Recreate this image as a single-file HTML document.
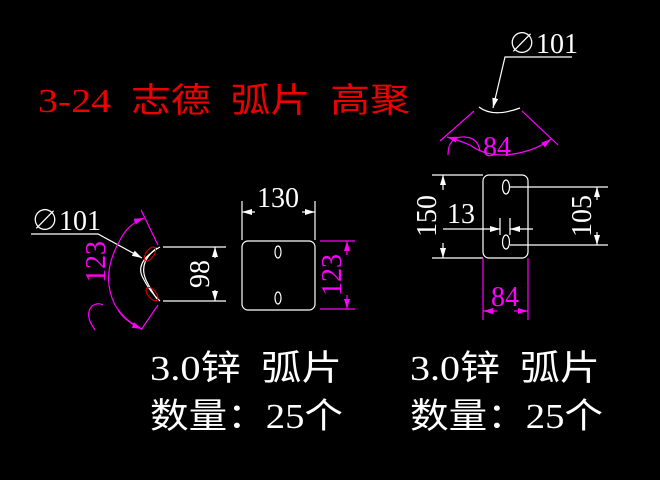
<!DOCTYPE html>
<html><head><meta charset="utf-8"><style>
html,body{margin:0;padding:0;background:#000;}
svg{display:block}
text{font-family:"Liberation Serif","Noto Serif CJK SC",serif;}
.cjk{font-family:"Liberation Serif","Noto Sans CJK SC",serif;white-space:pre;}
</style></head><body>
<svg width="660" height="480" viewBox="0 0 660 480" xmlns="http://www.w3.org/2000/svg">
<defs>
<marker id="aw" markerWidth="10" markerHeight="6" refX="10" refY="3" orient="auto" markerUnits="userSpaceOnUse"><path d="M0,0 L10,3 L0,6z" fill="#fff"/></marker>
<marker id="am" markerWidth="10" markerHeight="6" refX="10" refY="3" orient="auto" markerUnits="userSpaceOnUse"><path d="M0,0 L10,3 L0,6z" fill="#f0f"/></marker>
</defs>
<rect width="660" height="480" fill="#000"/>
<text x="38" y="112" class="cjk" font-size="34" fill="#e00" textLength="372" lengthAdjust="spacingAndGlyphs">3-24  志德  弧片  高聚</text>

<!-- LEFT -->
<g stroke="#fff" stroke-width="1.2" fill="none">
<path d="M31,234 H98 L142,258" marker-end="url(#aw)"/>
<path d="M160,247 Q134,262 143,278 Q150,292 160,301"/>
<path d="M157,248 Q138,262 146,280 Q152,292 157,299"/>
<line x1="163" y1="247" x2="226" y2="247"/>
<line x1="163" y1="301" x2="226" y2="301"/>
<line x1="215" y1="258" x2="215" y2="247" marker-end="url(#aw)"/>
<line x1="215" y1="290" x2="215" y2="301" marker-end="url(#aw)"/>
<rect x="242" y="241" width="73" height="69" rx="6"/>
<ellipse cx="278" cy="252" rx="3" ry="6"/>
<ellipse cx="278" cy="298" rx="3" ry="6"/>
<line x1="242" y1="201" x2="242" y2="240"/>
<line x1="315" y1="201" x2="315" y2="240"/>
<line x1="255" y1="212" x2="242" y2="212" marker-end="url(#aw)"/>
<line x1="302" y1="212" x2="315" y2="212" marker-end="url(#aw)"/>
</g>
<ellipse cx="150" cy="254" rx="4" ry="8" transform="rotate(35 150 254)" stroke="#e00" fill="none"/>
<ellipse cx="152" cy="294" rx="4" ry="8" transform="rotate(-40 152 294)" stroke="#e00" fill="none"/>
<text x="31" y="230" font-size="28" fill="#fff">∅101</text>
<text x="278" y="207" font-size="28" fill="#fff" text-anchor="middle">130</text>
<text transform="translate(209,274) rotate(-90)" font-size="28" fill="#fff" text-anchor="middle">98</text>
<g stroke="#f0f" stroke-width="1.2" fill="none">
<line x1="141" y1="210" x2="158" y2="245"/>
<line x1="141" y1="330" x2="158" y2="305"/>
<path d="M120,240 Q100,275 115,305 Q124,320 140,328"/>
<path d="M120,240 Q128,224 144,218" marker-end="url(#am)"/>
<path d="M118,310 Q126,322 142,329" marker-end="url(#am)"/>
<path d="M95,330 Q84,315 92,306 Q98,302 103,305"/>
<line x1="320" y1="241" x2="355" y2="241"/>
<line x1="320" y1="309" x2="355" y2="309"/>
<line x1="347" y1="255" x2="347" y2="241" marker-end="url(#am)"/>
<line x1="347" y1="295" x2="347" y2="309" marker-end="url(#am)"/>
</g>
<text transform="translate(105,262) rotate(-90)" font-size="28" fill="#f0f" text-anchor="middle">123</text>
<text transform="translate(341,275) rotate(-90)" font-size="28" fill="#f0f" text-anchor="middle">123</text>

<!-- RIGHT -->
<g stroke="#fff" stroke-width="1.2" fill="none">
<path d="M572,57 H505 L493,108" marker-end="url(#aw)"/>
<path d="M479,107 Q493,118 520,108"/>
<rect x="483" y="175" width="45" height="83" rx="6"/>
<ellipse cx="506" cy="187" rx="3.5" ry="7"/>
<ellipse cx="506" cy="242" rx="3.5" ry="7"/>
<line x1="500" y1="218" x2="500" y2="235"/>
<line x1="510" y1="218" x2="510" y2="235"/>
<line x1="432" y1="175" x2="483" y2="175"/>
<line x1="432" y1="258" x2="483" y2="258"/>
<line x1="443" y1="190" x2="443" y2="175" marker-end="url(#aw)"/>
<line x1="443" y1="243" x2="443" y2="258" marker-end="url(#aw)"/>
<line x1="443" y1="229" x2="500" y2="229" marker-end="url(#aw)"/>
<line x1="533" y1="229" x2="510" y2="229" marker-end="url(#aw)"/>
<line x1="510" y1="187" x2="608" y2="187"/>
<line x1="510" y1="245" x2="608" y2="245"/>
<line x1="597" y1="200" x2="597" y2="187" marker-end="url(#aw)"/>
<line x1="597" y1="232" x2="597" y2="245" marker-end="url(#aw)"/>
</g>
<text x="508" y="53" font-size="28" fill="#fff">∅101</text>
<text x="447" y="223" font-size="28" fill="#fff">13</text>
<text transform="translate(436,216) rotate(-90)" font-size="28" fill="#fff" text-anchor="middle">150</text>
<text transform="translate(591,216) rotate(-90)" font-size="28" fill="#fff" text-anchor="middle">105</text>
<g stroke="#f0f" stroke-width="1.2" fill="none">
<line x1="474" y1="111" x2="440" y2="141"/>
<line x1="522" y1="111" x2="558" y2="145"/>
<path d="M470,145 Q493,162 530,150" />
<path d="M470,145 Q458,140 447,137" marker-end="url(#am)"/>
<path d="M530,150 Q542,146 551,139" marker-end="url(#am)"/>
<path d="M448,155 Q448,136 465,137 Q478,138 480,151"/>
<line x1="483" y1="258" x2="483" y2="320"/>
<line x1="528" y1="258" x2="528" y2="320"/>
<line x1="497" y1="311" x2="483" y2="311" marker-end="url(#am)"/>
<line x1="514" y1="311" x2="528" y2="311" marker-end="url(#am)"/>
</g>
<text x="483" y="156" font-size="28" fill="#f0f">84</text>
<text x="505" y="306" font-size="28" fill="#f0f" text-anchor="middle">84</text>

<!-- bottom text -->
<text x="150" y="380" class="cjk" font-size="35" fill="#fff" textLength="192" lengthAdjust="spacingAndGlyphs">3.0锌  弧片</text>
<text x="150" y="428" class="cjk" font-size="35" fill="#fff" textLength="193" lengthAdjust="spacingAndGlyphs">数量：25个</text>
<text x="410" y="380" class="cjk" font-size="35" fill="#fff" textLength="190" lengthAdjust="spacingAndGlyphs">3.0锌  弧片</text>
<text x="410" y="428" class="cjk" font-size="35" fill="#fff" textLength="193" lengthAdjust="spacingAndGlyphs">数量：25个</text>
</svg>
</body></html>
